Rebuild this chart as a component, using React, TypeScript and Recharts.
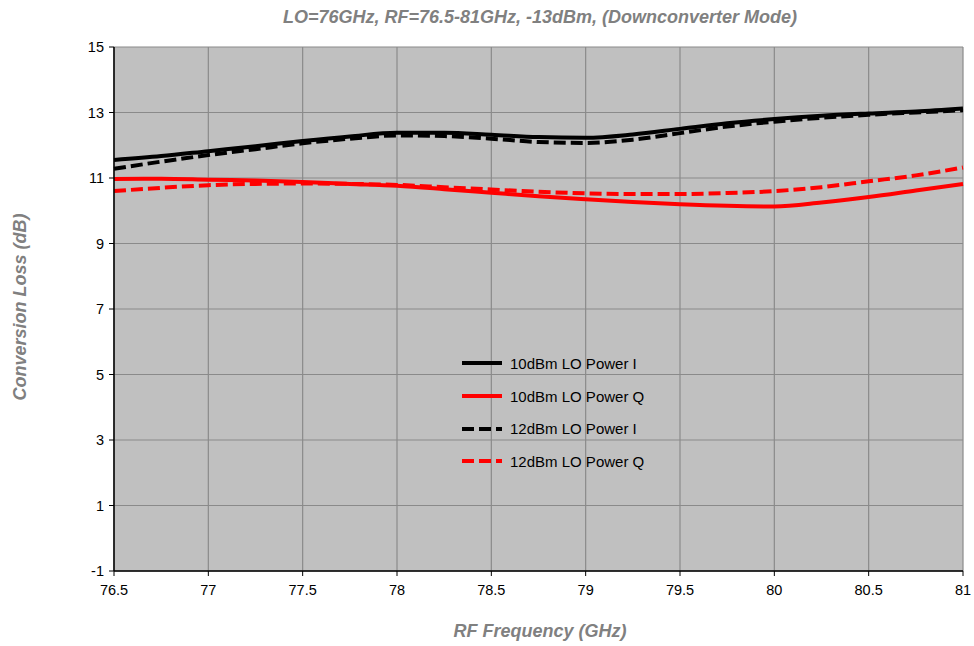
import { CartesianGrid, Line, LineChart, XAxis, YAxis } from "recharts";

const freqs = [76.5, 76.75, 77, 77.25, 77.5, 77.75, 78, 78.25, 78.5, 78.75, 79, 79.25, 79.5, 79.75, 80, 80.25, 80.5, 80.75, 81];

const lo10I = [11.55, 11.67, 11.82, 11.97, 12.13, 12.27, 12.38, 12.38, 12.32, 12.25, 12.23, 12.33, 12.5, 12.67, 12.8, 12.9, 12.97, 13.03, 13.12];
const lo10Q = [10.97, 10.98, 10.95, 10.92, 10.88, 10.82, 10.76, 10.66, 10.55, 10.44, 10.35, 10.27, 10.2, 10.15, 10.13, 10.25, 10.42, 10.62, 10.82];
const lo12I = [11.28, 11.5, 11.7, 11.88, 12.06, 12.2, 12.3, 12.28, 12.2, 12.1, 12.07, 12.17, 12.37, 12.57, 12.72, 12.84, 12.93, 13.0, 13.07];
const lo12Q = [10.6, 10.7, 10.78, 10.82, 10.83, 10.82, 10.79, 10.72, 10.65, 10.58, 10.53, 10.51, 10.51, 10.54, 10.6, 10.72, 10.9, 11.08, 11.32];

const xTicks = [76.5, 77, 77.5, 78, 78.5, 79, 79.5, 80, 80.5, 81];
const yTicks = [-1, 1, 3, 5, 7, 9, 11, 13, 15];

const series = [
  { key: "lo10I", name: "10dBm LO Power I", color: "#000000", dash: undefined },
  { key: "lo10Q", name: "10dBm LO Power Q", color: "#ff0000", dash: undefined },
  { key: "lo12I", name: "12dBm LO Power I", color: "#000000", dash: "12 5" },
  { key: "lo12Q", name: "12dBm LO Power Q", color: "#ff0000", dash: "12 5" },
];

const data = freqs.map((f, i) => ({
  f,
  lo10I: lo10I[i],
  lo10Q: lo10Q[i],
  lo12I: lo12I[i],
  lo12Q: lo12Q[i],
}));

const font = "'Liberation Sans', Arial, sans-serif";
const titleStyle = { fill: "#808080", fontWeight: 700, fontStyle: "italic", fontSize: 18, fontFamily: font };

function LegendBox() {
  return (
    <div style={{ position: "absolute", left: 460, top: 347, fontFamily: font, fontSize: 15, color: "#000" }}>
      {series.map((s) => (
        <div key={s.key} style={{ display: "flex", alignItems: "center", height: 32.7 }}>
          <svg width={46} height={10}>
            <line x1={2} y1={5} x2={42} y2={5} stroke={s.color} strokeWidth={4} strokeDasharray={s.dash} />
          </svg>
          <span style={{ marginLeft: 4 }}>{s.name}</span>
        </div>
      ))}
    </div>
  );
}

export default function App() {
  return (
    <div style={{ position: "absolute", left: 0, top: 0, width: 974, height: 646, background: "#fff" }}>
      <LineChart width={974} height={646} data={data} margin={{ top: 47, right: 11, bottom: 45, left: 54 }}>
        <CartesianGrid stroke="#8a8a8a" strokeWidth={1.2} fill="#c0c0c0" fillOpacity={1} />
        <XAxis
          dataKey="f"
          type="number"
          domain={[76.5, 81]}
          ticks={xTicks}
          interval={0}
          height={30}
          axisLine={{ stroke: "#000", strokeWidth: 1.5 }}
          tickLine={{ stroke: "#000" }}
          tickSize={5}
          tick={{ fill: "#000", fontSize: 14.5, fontFamily: font, dy: 7 }}
        />
        <YAxis
          type="number"
          domain={[-1, 15]}
          ticks={yTicks}
          interval={0}
          width={60}
          axisLine={{ stroke: "#000", strokeWidth: 1.5 }}
          tickLine={{ stroke: "#000" }}
          tickSize={5}
          tick={{ fill: "#000", fontSize: 14.5, fontFamily: font, dx: -3 }}
        />
        {series.map((s) => (
          <Line
            key={s.key}
            dataKey={s.key}
            name={s.name}
            type="monotone"
            stroke={s.color}
            strokeWidth={4}
            strokeDasharray={s.dash}
            dot={false}
            isAnimationActive={false}
          />
        ))}
        <text x={540} y={23} textAnchor="middle" style={titleStyle}>
          LO=76GHz, RF=76.5-81GHz, -13dBm, (Downconverter Mode)
        </text>
        <text x={540} y={637} textAnchor="middle" style={titleStyle}>
          RF Frequency (GHz)
        </text>
        <text x={0} y={0} textAnchor="middle" transform="translate(26 307) rotate(-90)" style={titleStyle}>
          Conversion Loss (dB)
        </text>
      </LineChart>
      <LegendBox />
    </div>
  );
}
